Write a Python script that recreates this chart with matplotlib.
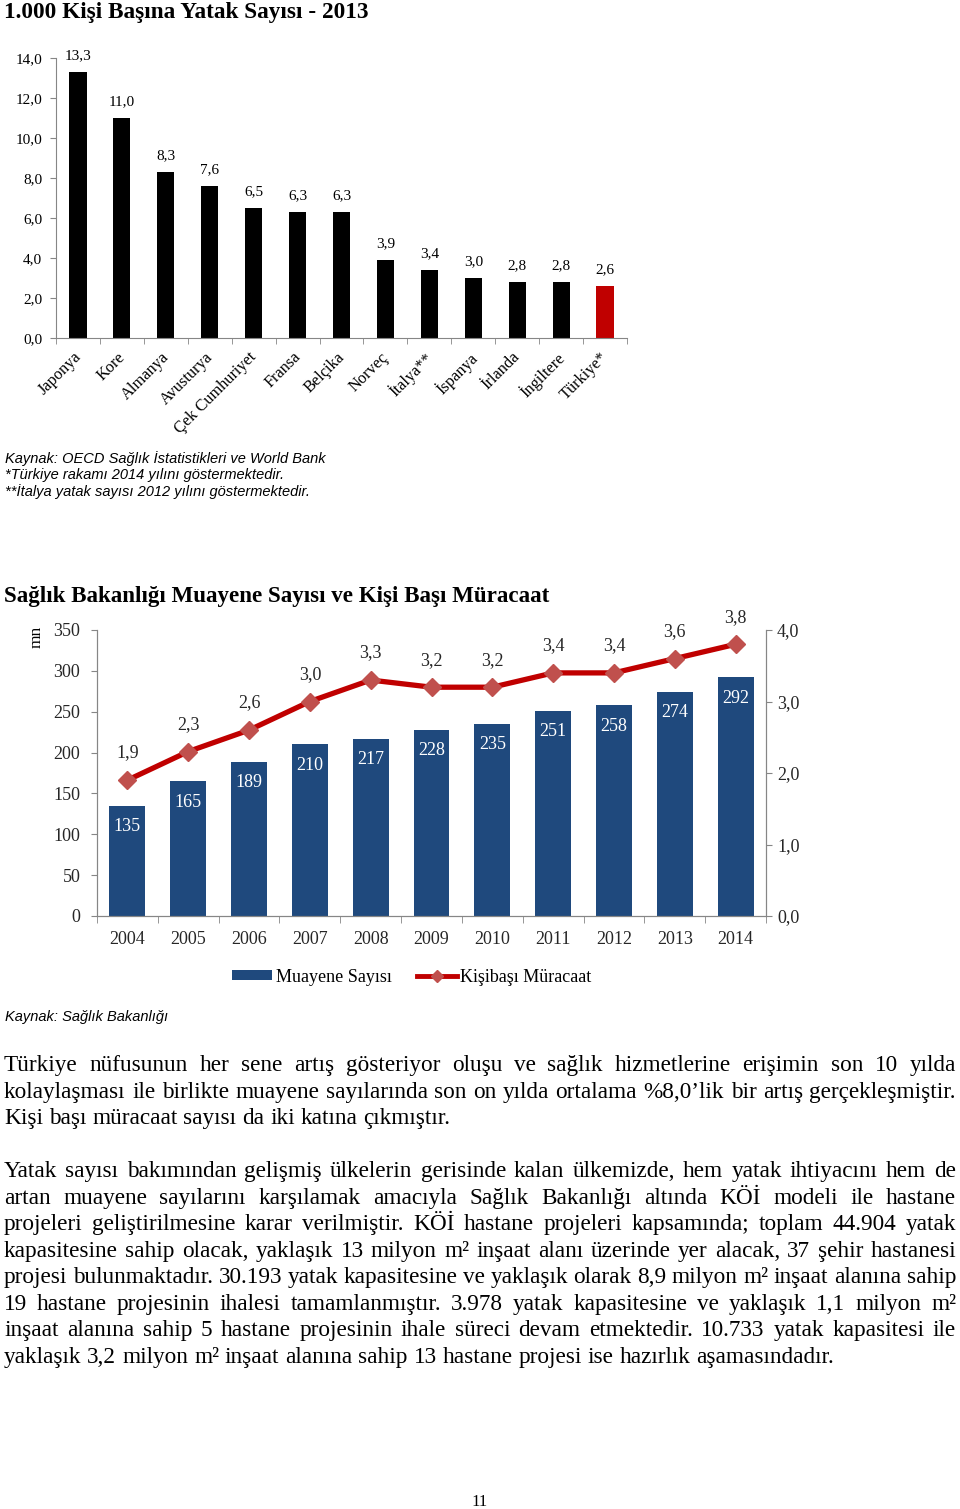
import numpy as np
import matplotlib
matplotlib.use('Agg')
import matplotlib.pyplot as plt
from matplotlib.patches import Patch
from matplotlib.lines import Line2D
from matplotlib.transforms import ScaledTranslation

plt.rcParams['font.family'] = ['Liberation Serif', 'DejaVu Serif']

W, H = 960, 1509

# --- data: chart 1 ---
countries = ['Japonya', 'Kore', 'Almanya', 'Avusturya', 'Çek Cumhuriyet', 'Fransa',
             'Belçika', 'Norveç', 'İtalya**', 'İspanya', 'İrlanda', 'İngiltere', 'Türkiye*']
beds = [13.3, 11.0, 8.3, 7.6, 6.5, 6.3, 6.3, 3.9, 3.4, 3.0, 2.8, 2.8, 2.6]
beds_ticks = [0, 2, 4, 6, 8, 10, 12, 14]

# --- data: chart 2 ---
years = ['2004', '2005', '2006', '2007', '2008', '2009', '2010', '2011', '2012', '2013', '2014']
visits = [135, 165, 189, 210, 217, 228, 235, 251, 258, 274, 292]
per_capita = [1.9, 2.3, 2.6, 3.0, 3.3, 3.2, 3.2, 3.4, 3.4, 3.6, 3.8]
visits_ticks = [0, 50, 100, 150, 200, 250, 300, 350]
per_capita_ticks = [0, 1, 2, 3, 4]

para1 = [
    'Türkiye nüfusunun her sene artış gösteriyor oluşu ve sağlık hizmetlerine erişimin son 10 yılda',
    'kolaylaşması ile birlikte muayene sayılarında son on yılda ortalama %8,0’lik bir artış gerçekleşmiştir.',
    'Kişi başı müracaat sayısı da iki katına çıkmıştır.',
]
para2 = [
    'Yatak sayısı bakımından gelişmiş ülkelerin gerisinde kalan ülkemizde, hem yatak ihtiyacını hem de',
    'artan muayene sayılarını karşılamak amacıyla Sağlık Bakanlığı altında KÖİ modeli ile hastane',
    'projeleri geliştirilmesine karar verilmiştir. KÖİ hastane projeleri kapsamında; toplam 44.904 yatak',
    'kapasitesine sahip olacak, yaklaşık 13 milyon m² inşaat alanı üzerinde yer alacak, 37 şehir hastanesi',
    'projesi bulunmaktadır. 30.193 yatak kapasitesine ve yaklaşık olarak 8,9 milyon m² inşaat alanına sahip',
    '19 hastane projesinin ihalesi tamamlanmıştır. 3.978 yatak kapasitesine ve yaklaşık 1,1 milyon m²',
    'inşaat alanına sahip 5 hastane projesinin ihale süreci devam etmektedir. 10.733 yatak kapasitesi ile',
    'yaklaşık 3,2 milyon m² inşaat alanına sahip 13 hastane projesi ise hazırlık aşamasındadır.',
]

GREY = '#868686'
BLUE = '#1F497D'
RED = '#C00000'


def fmt(v):
    return ('%.1f' % v).replace('.', ',')


def fx(px):
    return px / W


def fy(py):
    return 1 - py / H


fig = plt.figure(figsize=(W / 100, H / 100), dpi=100)
renderer = fig.canvas.get_renderer()


def text_width(s, **kw):
    t = fig.text(0, 0, s, **kw)
    w = t.get_window_extent(renderer).width
    t.remove()
    return w


def fit_size(s, width, size, **kw):
    return size * width / text_width(s, size=size, **kw)


def justify(line, y, size, last=False, x0=4, x1=956):
    words = line.split(' ')
    widths = [text_width(w, size=size) for w in words]
    if last or len(words) < 2:
        gap = text_width('a b', size=size) - text_width('ab', size=size)
    else:
        gap = (x1 - x0 - sum(widths)) / (len(words) - 1)
    x = x0
    for w, wd in zip(words, widths):
        fig.text(fx(x), fy(y), w, size=size, ha='left', va='baseline')
        x += wd + gap


# --- titles ---
t1 = '1.000 Kişi Başına Yatak Sayısı - 2013'
s1 = fit_size(t1, 365, 15, weight='bold')
fig.text(fx(4), fy(18), t1, size=s1, weight='bold', ha='left', va='baseline')

t2 = 'Sağlık Bakanlığı Muayene Sayısı ve Kişi Başı Müracaat'
s2 = fit_size(t2, 546, 15, weight='bold')
fig.text(fx(4), fy(602), t2, size=s2, weight='bold', ha='left', va='baseline')

# --- chart 1 ---
ax1 = fig.add_axes([fx(56), fy(338), (627 - 56) / W, 280 / H])
x1 = np.arange(len(countries))
bar_colors = ['black'] * (len(countries) - 1) + [RED]
ax1.bar(x1, beds, width=0.39, color=bar_colors)
for i, v in enumerate(beds):
    ax1.annotate(fmt(v), (i, v), xytext=(0, 11.5), textcoords='offset points',
                 ha='center', va='center', size=11, annotation_clip=False)
ax1.set_xlim(-0.5, len(countries) - 0.5)
ax1.set_ylim(0, 14)
ax1.set_yticks(beds_ticks)
ax1.set_yticklabels([fmt(v) for v in beds_ticks])
ax1.set_xticks(x1)
ax1.set_xticklabels(countries, rotation=45, ha='right', va='top', rotation_mode='anchor')
ax1.set_xticks(np.arange(-0.5, len(countries), 1), minor=True)
ax1.tick_params(axis='x', which='major', length=0, pad=8, labelsize=11.8)
ax1.tick_params(axis='x', which='minor', length=4, color=GREY, direction='out')
ax1.tick_params(axis='y', length=4, color=GREY, pad=6, labelsize=11)
shift = ScaledTranslation(-5 / 100, 0, fig.dpi_scale_trans)
for lab in ax1.get_xticklabels():
    lab.set_transform(lab.get_transform() + shift)
for side in ['top', 'right']:
    ax1.spines[side].set_visible(False)
for side in ['left', 'bottom']:
    ax1.spines[side].set_color(GREY)

notes = ['Kaynak: OECD Sağlık İstatistikleri ve World Bank',
         '*Türkiye rakamı 2014 yılını göstermektedir.',
         '**İtalya yatak sayısı 2012 yılını göstermektedir.']
for k, n in enumerate(notes):
    fig.text(fx(5), fy(459 + 16.5 * k), n, family=['Liberation Sans', 'DejaVu Sans'],
             style='italic', size=10.5, ha='left', va='center')

# --- chart 2 ---
ax2 = fig.add_axes([fx(97), fy(916), (766 - 97) / W, 286 / H])
x2 = np.arange(len(years))
ax2.bar(x2, visits, width=0.59, color=BLUE)
for i, v in enumerate(visits):
    ax2.annotate(str(v), (i, v), xytext=(0, -15), textcoords='offset points',
                 ha='center', va='center', size=13, color='white')
ax2.set_xlim(-0.5, len(years) - 0.5)
ax2.set_ylim(0, 350)
ax2.set_yticks(visits_ticks)
ax2.set_xticks(x2)
ax2.set_xticklabels(years)
ax2.set_xticks(np.arange(-0.5, len(years), 1), minor=True)
ax2.tick_params(axis='x', which='major', length=0, pad=11, labelsize=13, labelcolor='#262626')
ax2.tick_params(axis='x', which='minor', length=5, color=GREY)
ax2.tick_params(axis='y', length=4, color=GREY, pad=8, labelsize=13, labelcolor='#262626')

ax3 = ax2.twinx()
ax3.plot(x2, per_capita, color=RED, lw=3.8, marker='D', ms=9,
         mfc='#C0504D', mec='#C0504D', zorder=3)
for i, v in enumerate(per_capita):
    ax3.annotate(fmt(v), (i, v), xytext=(0, 19.5), textcoords='offset points',
                 ha='center', va='center', size=13, color='#262626', annotation_clip=False)
ax3.set_ylim(0, 4)
ax3.set_yticks(per_capita_ticks)
ax3.set_yticklabels([fmt(v) for v in per_capita_ticks])
ax3.tick_params(axis='y', length=4, color=GREY, pad=4, labelsize=13, labelcolor='#262626')

for a in (ax2, ax3):
    a.spines['top'].set_visible(False)
    for side in ['left', 'right', 'bottom']:
        a.spines[side].set_color(GREY)

fig.text(fx(37), fy(637), 'mn', rotation=90, size=12.5, ha='center', va='center')

handles = [Patch(facecolor=BLUE, edgecolor='none', label='Muayene Sayısı'),
           Line2D([], [], color=RED, lw=3.5, marker='D', ms=6,
                  mfc='#C0504D', mec='#C0504D', label='Kişibaşı Müracaat')]
fig.legend(handles=handles, loc='center', bbox_to_anchor=(fx(412), fy(977)), ncol=2,
           frameon=False, fontsize=13, handlelength=2.2, handleheight=0.45,
           handletextpad=0.2, columnspacing=1.4, numpoints=1, borderaxespad=0, borderpad=0)

fig.text(fx(5), fy(1017), 'Kaynak: Sağlık Bakanlığı', family=['Liberation Sans', 'DejaVu Sans'],
         style='italic', size=10.5, ha='left', va='center')

# --- body text ---
body_size = fit_size(para1[1], 950, 15)
for k, line in enumerate(para1):
    justify(line, 1071 + 26.57 * k, body_size, last=(k == len(para1) - 1))
for k, line in enumerate(para2):
    justify(line, 1177 + 26.57 * k, body_size, last=(k == len(para2) - 1))

fig.text(0.5, fy(1506), '11', size=12, ha='center', va='baseline')

fig.savefig('out.png', dpi=100)
